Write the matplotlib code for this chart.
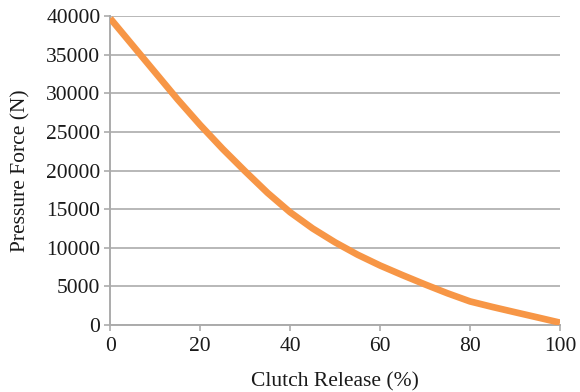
import matplotlib
matplotlib.use("Agg")
import matplotlib.pyplot as plt

# clutch release position (%) vs diaphragm spring pressure force (N)
RELEASE = [0, 5, 10, 15, 20, 25, 30, 35, 40, 45, 50,
           55, 60, 65, 70, 75, 80, 85, 90, 95, 100]
FORCE = [39700, 36200, 32700, 29200, 25900, 22800, 19900, 17100, 14600, 12500, 10700,
         9100, 7700, 6450, 5250, 4100, 3050, 2330, 1650, 980, 300]

C_LINE = "#F79646"
C_GRID = "#ABABAB"
C_TEXT = "#1a1a1a"

plt.rcParams["font.family"] = ["Liberation Serif", "DejaVu Serif"]

fig = plt.figure(figsize=(5.8, 3.92), dpi=100)
ax = fig.add_axes([0.19, 0.171, 0.7755, 0.788])

ax.plot(RELEASE, FORCE, color=C_LINE, lw=4.8, solid_capstyle="butt",
        solid_joinstyle="round", zorder=3)

ax.set_xlim(0, 100)
ax.set_ylim(0, 40000)
ax.set_xticks(range(0, 101, 20))
ax.set_yticks(range(0, 40001, 5000))
ax.yaxis.grid(True, color=C_GRID, lw=1.2)
ax.set_axisbelow(True)

for s in ("top", "right"):
    ax.spines[s].set_visible(False)
for s in ("left", "bottom"):
    ax.spines[s].set_color(C_GRID)
    ax.spines[s].set_linewidth(1.4)

ax.tick_params(axis="both", colors=C_GRID, labelcolor=C_TEXT, labelsize=15.5,
               length=4, width=1.2, direction="out")
ax.tick_params(axis="x", pad=5)
ax.tick_params(axis="y", pad=3)

ax.set_xlabel("Clutch Release (%)", fontsize=15.5, color=C_TEXT, labelpad=11)
ax.set_ylabel("Pressure Force (N)", fontsize=15.5, color=C_TEXT, labelpad=11)

fig.savefig("out.png", dpi=100)
